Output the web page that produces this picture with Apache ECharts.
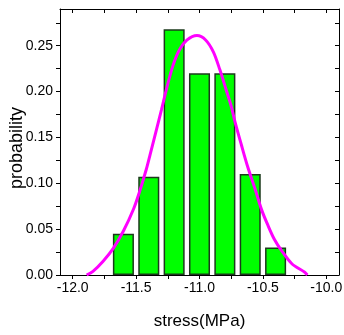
<!DOCTYPE html>
<html>
<head>
<meta charset="utf-8">
<script src="https://cdn.jsdelivr.net/npm/echarts@6/dist/echarts.min.js"></script>
<style>
  html, body { margin: 0; padding: 0; background: #fff; }
  #chart { width: 344px; height: 335px; }
</style>
</head>
<body>
<div id="chart"></div>
<script>
// Histogram of stress values (bin centres, MPa) and their probabilities
const binCenters = [-11.6, -11.4, -11.2, -11.0, -10.8, -10.6, -10.4];
const binProb = [0.045, 0.107, 0.268, 0.220, 0.220, 0.110, 0.030];

// Fitted distribution curve, sampled points
const curveX = [-11.89, -11.84, -11.76, -11.68, -11.60, -11.52, -11.47, -11.42, -11.39,
                -11.30, -11.26, -11.21, -11.16, -11.10, -11.02, -10.95, -10.89, -10.84,
                -10.79, -10.75, -10.72, -10.67, -10.62, -10.56, -10.51, -10.46, -10.41,
                -10.35, -10.27, -10.17, -10.15];
const curveY = [0.000, 0.004, 0.015, 0.029, 0.048, 0.072, 0.092, 0.115, 0.131,
                0.180, 0.203, 0.228, 0.245, 0.256, 0.261, 0.256, 0.243, 0.224,
                0.202, 0.184, 0.167, 0.142, 0.118, 0.093, 0.071, 0.054, 0.039,
                0.026, 0.012, 0.003, 0.000];

// Axis ticks and labels
const xLabelValues = [-12.0, -11.5, -11.0, -10.5, -10.0];
const xTickValues = [-12.0, -11.75, -11.5, -11.25, -11.0, -10.75, -10.5, -10.25, -10.0];
const yLabelValues = [0.00, 0.05, 0.10, 0.15, 0.20, 0.25];
const yTickValues = [0.00, 0.025, 0.05, 0.075, 0.10, 0.125, 0.15, 0.175, 0.20, 0.225, 0.25, 0.275];

const X_MIN = -12.1, X_MAX = -9.9, Y_MIN = 0, Y_MAX = 0.29;
const FONT = '"Liberation Sans", Arial, sans-serif';

const chart = echarts.init(document.getElementById('chart'), null, { renderer: 'canvas' });

const axisLine = { show: true, onZero: false, lineStyle: { color: '#000', width: 1 } };

chart.setOption({
  animation: false,
  grid: { left: 60, right: 5, top: 9, bottom: 60, containLabel: false, outerBoundsMode: 'none' },
  xAxis: [
    {
      type: 'value', position: 'bottom', min: X_MIN, max: X_MAX,
      name: 'stress(MPa)', nameLocation: 'middle', nameGap: 38, nameMoveOverlap: false,
      nameTextStyle: { fontFamily: FONT, fontSize: 17, color: '#000' },
      axisLine: axisLine,
      axisTick: { show: true, inside: false, length: 4, customValues: xTickValues,
                  lineStyle: { color: '#000' } },
      axisLabel: { customValues: xLabelValues, margin: 6, fontFamily: FONT, fontSize: 14,
                   color: '#000', formatter: v => v.toFixed(1) },
      splitLine: { show: false }
    },
    {
      type: 'value', position: 'top', min: X_MIN, max: X_MAX,
      axisLine: axisLine,
      axisTick: { show: true, inside: true, length: 4, customValues: xTickValues,
                  lineStyle: { color: '#000' } },
      axisLabel: { show: false },
      splitLine: { show: false }
    }
  ],
  yAxis: [
    {
      type: 'value', position: 'left', min: Y_MIN, max: Y_MAX,
      name: 'probability', nameLocation: 'middle', nameGap: 34, nameRotate: 90,
      nameMoveOverlap: false,
      nameTextStyle: { fontFamily: FONT, fontSize: 18, color: '#000', padding: [0, 12, 0, 0] },
      axisLine: axisLine,
      axisTick: { show: true, inside: false, length: 4, customValues: yTickValues,
                  lineStyle: { color: '#000' } },
      axisLabel: { customValues: yLabelValues, margin: 7, fontFamily: FONT, fontSize: 14,
                   color: '#000', formatter: v => v.toFixed(2) },
      splitLine: { show: false }
    },
    {
      type: 'value', position: 'right', min: Y_MIN, max: Y_MAX,
      axisLine: axisLine,
      axisTick: { show: true, inside: true, length: 4, customValues: yTickValues,
                  lineStyle: { color: '#000' } },
      axisLabel: { show: false },
      splitLine: { show: false }
    }
  ],
  series: [
    {
      type: 'bar',
      xAxisIndex: 0, yAxisIndex: 0,
      data: binCenters.map((x, i) => [x, binProb[i]]),
      barWidth: '83%',
      itemStyle: { color: '#00ff00', borderColor: '#1c3a1c', borderWidth: 1.5 },
      z: 2
    },
    {
      type: 'line',
      xAxisIndex: 0, yAxisIndex: 0,
      data: curveX.map((x, i) => [x, curveY[i]]),
      smooth: 0.3,
      showSymbol: false,
      lineStyle: { color: '#ff00ff', width: 3 },
      z: 3
    }
  ]
});
</script>
</body>
</html>
